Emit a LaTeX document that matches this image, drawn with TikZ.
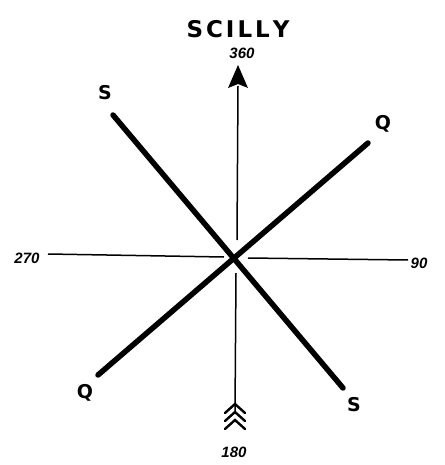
\documentclass[tikz,border=0pt]{standalone}
\usepackage{fontspec}
\setmainfont{DejaVu Sans}
\newfontfamily\numfont{Liberation Sans}
\begin{document}
\begin{tikzpicture}[x=1pt,y=-1pt,
  heavy/.style={line width=5.5pt, line cap=round},
  thin/.style={line width=1.5pt},
  letter/.style={font=\bfseries\fontsize{19}{19}\selectfont, inner sep=0pt},
  numlab/.style={font=\numfont\bfseries\itshape\fontsize{15}{15}\selectfont, inner sep=0pt},
  fletch/.style={line width=2.4pt}]
\useasboundingbox (0,0) rectangle (444,465);
\coordinate (c) at (235,257);
\coordinate (top) at (238,65);
\coordinate (topbase) at (238,86);
\coordinate (topin) at (237,240);
\coordinate (botin) at (236,273);
\coordinate (bot) at (235,412);
\coordinate (left) at (48,254);
\coordinate (leftin) at (224,257);
\coordinate (rightin) at (248,258);
\coordinate (right) at (408,260);
\coordinate (s1) at (113,115);
\coordinate (s2) at (343,388);
\coordinate (q1) at (368,143);
\coordinate (q2) at (98,375);
\node[font=\bfseries\fontsize{23}{23}\selectfont, inner sep=0pt] (title) at (238,29) {S\kern3pt C\kern3pt I\kern3pt L\kern3pt L\kern3pt Y};
\node[numlab] (n360) at (242,53) {360};
\node[numlab] (n180) at (234,452) {180};
\node[numlab] (n270) at (27,258) {270};
\node[numlab] (n90) at (419,263) {90};
\node[letter] (lS1) at (105,93) {S};
\node[letter] (lS2) at (354,405) {S};
\node[letter] (lQ1) at (383,124) {Q};
\node[letter] (lQ2) at (85,393) {Q};
\draw[thin] (topbase) -- (topin);
\draw[thin] (botin) -- (bot);
\fill (top) -- (248,88) -- (238,84) -- (228,88) -- cycle;
\draw[thin] (left) -- (leftin);
\draw[thin] (rightin) -- (right);
\draw[heavy] (s1) -- (s2);
\draw[heavy] (q2) -- (q1);
\foreach \y in {404,412,420} {
  \draw[fletch, line cap=round] (225,\y+9) -- (235,\y) -- (245,\y+9);
}
\end{tikzpicture}
\end{document}
